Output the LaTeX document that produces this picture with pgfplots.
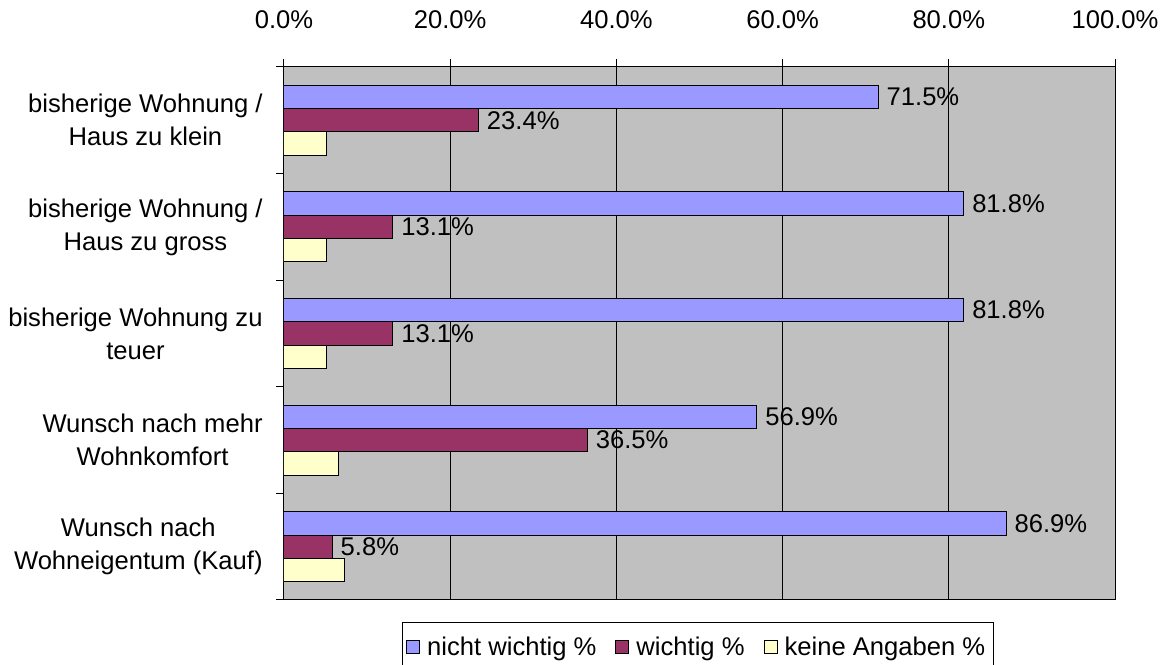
\documentclass[border=0pt]{standalone}
\usepackage{pgfplots}
\pgfplotsset{compat=1.18}
\usepackage{fontspec}
\setmainfont{Liberation Sans}
\usetikzlibrary{calc}
\definecolor{cblue}{HTML}{9999FF}
\definecolor{cred}{HTML}{993366}
\definecolor{cyel}{HTML}{FFFFCC}
\definecolor{plotgray}{HTML}{C0C0C0}
\begin{document}
\fontsize{12.8}{16.5}\selectfont
\begin{tikzpicture}
\begin{axis}[
  scale only axis, width=415.5pt, height=266.5pt,
  xbar=0pt, bar width=11.67pt,
  xmin=0, xmax=100, ymin=-0.5, ymax=4.5, y dir=reverse,
  axis background/.style={fill=plotgray},
  axis line style={draw=black, line width=0.5pt},
  xtick={0,20,40,60,80,100},
  xtick pos=upper, xticklabel pos=upper,
  tick align=outside, major tick length=4pt,
  tick style={black, line width=0.5pt},
  xmajorgrids, grid style={black, line width=0.5pt},
  /pgf/number format/assume math mode=true,
  xticklabel={\pgfmathprintnumber[fixed,fixed zerofill,precision=1]{\tick}\%},
  xticklabel style={font=\fontsize{12.8}{15}\selectfont, inner sep=0pt, yshift=15pt},
  ytick={-0.5,0.5,1.5,2.5,3.5,4.5}, yticklabels={}, ytick pos=left,
  extra y ticks={0,1,2,3,4},
  extra y tick labels={{bisherige Wohnung /\\Haus zu klein},{bisherige Wohnung /\\Haus zu gross},{bisherige Wohnung zu\\teuer},{Wunsch nach mehr\\Wohnkomfort},{Wunsch nach\\Wohneigentum (Kauf)}},
  extra y tick style={major tick length=0pt, tick style={draw=none}},
  yticklabel style={align=center, font=\fontsize{12.8}{16.5}\selectfont, inner sep=0pt, xshift=-10.5pt},
  legend columns=3,
  legend style={at={(axis description cs:0.4979,-0.0415)}, anchor=north, draw=black, fill=white,
    font=\fontsize{12.8}{15}\selectfont, inner xsep=2pt, inner ysep=5pt,
    /tikz/every even column/.append style={column sep=7.5pt},
    /tikz/every odd column/.append style={column sep=1.5pt}},
  legend image code/.code={\draw[#1, draw=black, line width=0.5pt] (0pt,-2.8pt) rectangle (6.5pt,3.6pt);},
  nodes near coords style={font=\fontsize{12.8}{15}\selectfont, anchor=west, inner sep=0pt, xshift=4pt, black},
]
\addplot[fill=cblue, draw=black, line width=0.5pt, bar shift=11.67pt,
  nodes near coords={\pgfmathprintnumber[fixed,fixed zerofill,precision=1]{\pgfplotspointmeta}\%}]
  coordinates {(71.5,0) (81.8,1) (81.8,2) (56.9,3) (86.9,4)};
\addplot[fill=cred, draw=black, line width=0.5pt, bar shift=0pt,
  nodes near coords={\pgfmathprintnumber[fixed,fixed zerofill,precision=1]{\pgfplotspointmeta}\%}]
  coordinates {(23.4,0) (13.1,1) (13.1,2) (36.5,3) (5.8,4)};
\addplot[fill=cyel, draw=black, line width=0.5pt, bar shift=-11.67pt]
  coordinates {(5.1,0) (5.1,1) (5.1,2) (6.6,3) (7.3,4)};
\legend{nicht wichtig \%, wichtig \%, keine Angaben \%}
\end{axis}
\pgfresetboundingbox
\path[use as bounding box] ($(current axis.south west)+(-142pt,-32.5pt)$) rectangle ($(current axis.north east)+(26pt,33.5pt)$);
\end{tikzpicture}
\end{document}
